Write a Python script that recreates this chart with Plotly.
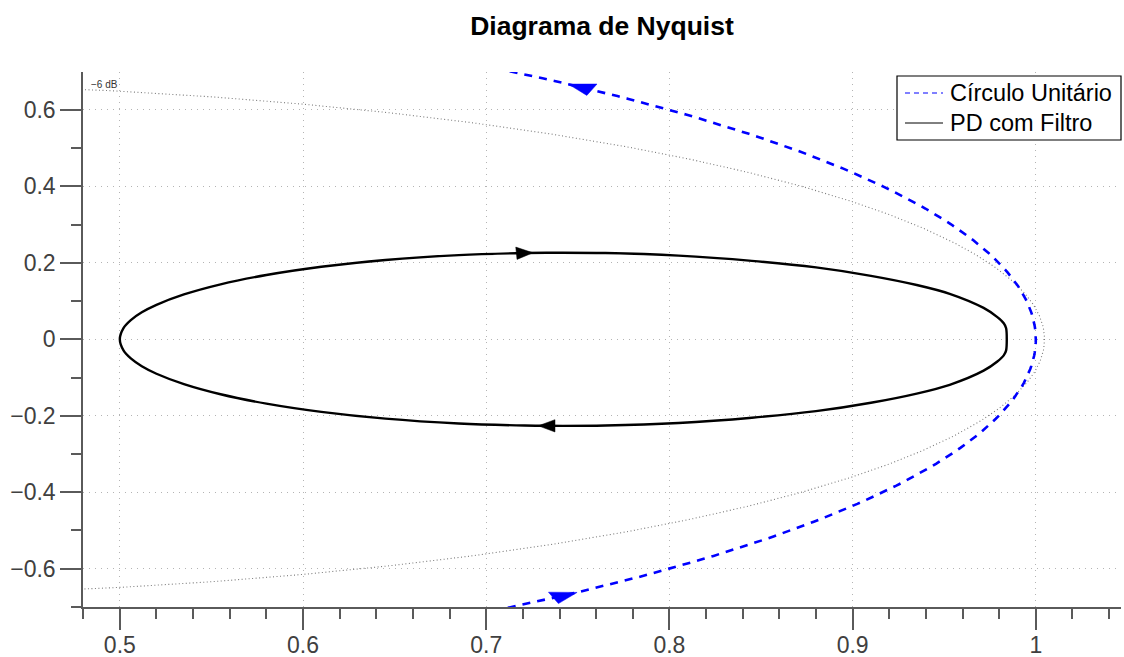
import numpy as np
import plotly.graph_objects as go

# Upper branch of the "PD com Filtro" Nyquist curve (lower branch is its mirror image)
PD_X = [0.5000, 0.5020, 0.5060, 0.5120, 0.5200, 0.5350, 0.5550, 0.5800, 0.6100,
        0.6450, 0.6850, 0.7210, 0.7330, 0.7650, 0.8050, 0.8450, 0.8800, 0.9100,
        0.9350, 0.9530, 0.9715, 0.9790, 0.9825, 0.9838]
PD_Y = [0.0000, 0.0291, 0.0501, 0.0705, 0.0901, 0.1173, 0.1438, 0.1682, 0.1898,
        0.2075, 0.2201, 0.2256, 0.2263, 0.2255, 0.2188, 0.2051, 0.1880, 0.1660,
        0.1420, 0.1190, 0.0820, 0.0580, 0.0420, 0.0290]

# Unit circle angles (degrees) and the M-circle level of the grid
CIRCLE_DEG = np.arange(-180.0, 180.5, 0.5)
M_CIRCLE_DB = -6

# Where the direction arrows sit
CIRCLE_ARROW_DEG = [41.3, -42.0]
PD_ARROW_X = (0.721, 0.733)

X_TICKS = [0.5, 0.6, 0.7, 0.8, 0.9, 1.0]
Y_TICKS = [-0.6, -0.4, -0.2, 0.0, 0.2, 0.4, 0.6]

LEGEND_NAMES = ["Círculo Unitário", "PD com Filtro"]

XR = [0.4799, 1.0465]
YR = [-0.7001, 0.699]
SX = XR[1] - XR[0]
SY = YR[1] - YR[0]

FONT = "Liberation Sans, Arial, Helvetica, sans-serif"
AXIS_COLOR = "#5a5a5a"
BLUE = "#0000ff"

W, H = 1124, 657
ML, MR, MT, MB = 83, 3, 72, 50
PW, PH = W - ML - MR, H - MT - MB


def px2paper(xp, yp):
    return (xp - ML) / PW, (H - MB - yp) / PH


def arrow_head(px, py, dx, dy, length, half_width):
    """Triangle built in normalized axes units, pointing along (dx, dy)."""
    ux, uy = dx / SX, dy / SY
    n = np.hypot(ux, uy)
    ux, uy = ux / n, uy / n
    nx, ny = -uy, ux
    cx, cy = px / SX, py / SY
    tip = (cx + length / 2 * ux, cy + length / 2 * uy)
    bx, by = cx - length / 2 * ux, cy - length / 2 * uy
    b1 = (bx + half_width * nx, by + half_width * ny)
    b2 = (bx - half_width * nx, by - half_width * ny)
    pts = [tip, b1, b2, tip]
    return [p[0] * SX for p in pts], [p[1] * SY for p in pts]


# closed PD path: upper branch left->right, lower branch right->left
px = list(PD_X) + list(PD_X[::-1])
py = list(PD_Y) + [-v for v in PD_Y[::-1]]

# unit circle
th = np.deg2rad(CIRCLE_DEG)
cx_u, cy_u = np.cos(th), np.sin(th)

# M-circle for the grid
M = 10 ** (M_CIRCLE_DB / 20)
mc = M ** 2 / (1 - M ** 2)
mr = M / (1 - M ** 2)
mx = mc + mr * np.cos(th)
my = mr * np.sin(th)

fig = go.Figure()

fig.add_trace(go.Scatter(x=mx, y=my, mode="lines", showlegend=False, hoverinfo="skip",
                         line=dict(color="#7a7a7a", width=1.1, dash="1px,2.5px")))

fig.add_trace(go.Scatter(x=cx_u, y=cy_u, mode="lines", showlegend=False,
                         name=LEGEND_NAMES[0],
                         line=dict(color=BLUE, width=2.6, dash="8px,7px")))

fig.add_trace(go.Scatter(x=px, y=py, mode="lines", showlegend=False,
                         name=LEGEND_NAMES[1],
                         line=dict(color="black", width=2.4, shape="spline", smoothing=0.8)))

# arrows on the unit circle (counter-clockwise)
for deg in CIRCLE_ARROW_DEG:
    t = np.deg2rad(deg)
    ax_, ay_ = arrow_head(np.cos(t), np.sin(t), -np.sin(t), np.cos(t), 0.025, 0.0117)
    fig.add_trace(go.Scatter(x=ax_, y=ay_, mode="lines", fill="toself", fillcolor=BLUE,
                             line=dict(color=BLUE, width=0.5), showlegend=False,
                             hoverinfo="skip"))

# arrows on the PD curve
n_half = len(PD_X)
i_up = int(np.argmin([abs(v - PD_ARROW_X[0]) for v in PD_X]))
i_lo = n_half + (n_half - 1 - int(np.argmin([abs(v - PD_ARROW_X[1]) for v in PD_X])))
for i in (i_up, i_lo):
    dx = px[i + 1] - px[i - 1]
    dy = py[i + 1] - py[i - 1]
    ax_, ay_ = arrow_head(px[i], py[i], dx, dy, 0.016, 0.0115)
    fig.add_trace(go.Scatter(x=ax_, y=ay_, mode="lines", fill="toself", fillcolor="black",
                             line=dict(color="black", width=0.5), showlegend=False,
                             hoverinfo="skip"))

axis_common = dict(
    showline=True, linecolor=AXIS_COLOR, linewidth=1.5, mirror=False,
    ticks="outside", ticklen=21, tickwidth=1.5, tickcolor=AXIS_COLOR,
    tickfont=dict(family=FONT, size=23, color="#404040"),
    showgrid=True, gridcolor="#b4b4b4", gridwidth=1, griddash="1px,5px",
    zeroline=False, automargin=False,
)

fig.update_xaxes(range=XR, tickvals=X_TICKS, ticktext=[f"{v:g}" for v in X_TICKS],
                 ticklabelstandoff=-4,
                 minor=dict(dtick=0.02, tick0=0, ticklen=10, tickwidth=1.5,
                            tickcolor=AXIS_COLOR, ticks="outside", showgrid=False),
                 **axis_common)
fig.update_yaxes(range=YR, tickvals=Y_TICKS,
                 ticktext=[("\u2212" if v < 0 else "") + f"{abs(v):g}" for v in Y_TICKS],
                 minor=dict(dtick=0.1, tick0=0, ticklen=10, tickwidth=1.5,
                            tickcolor=AXIS_COLOR, ticks="outside", showgrid=False),
                 **axis_common)

fig.add_annotation(x=0.4831, y=0.667, xref="x", yref="y", text="\u22126 dB",
                   showarrow=False, xanchor="left", yanchor="middle",
                   font=dict(family=FONT, size=10, color="#333333"))

# boxed legend in the upper-right corner
bx0, by0 = px2paper(897, 140)
bx1, by1 = px2paper(1121, 76)
fig.add_shape(type="rect", xref="paper", yref="paper", x0=bx0, y0=by0, x1=bx1, y1=by1,
              line=dict(color="black", width=1.2), fillcolor="white", layer="above")
legend_rows = [(LEGEND_NAMES[0], BLUE, "5px,4px", 93), (LEGEND_NAMES[1], "black", "solid", 123)]
for name, color, dash, yp in legend_rows:
    lx0, ly = px2paper(905, yp)
    lx1, _ = px2paper(943, yp)
    tx, _ = px2paper(948, yp)
    fig.add_shape(type="line", xref="paper", yref="paper", x0=lx0, y0=ly, x1=lx1, y1=ly,
                  line=dict(color=color, width=1, dash=dash), layer="above")
    fig.add_annotation(x=tx, y=ly, xref="paper", yref="paper", text=name, showarrow=False,
                       xanchor="left", yanchor="middle",
                       font=dict(family=FONT, size=23.5, color="black"))

fig.update_layout(
    width=W, height=H,
    margin=dict(l=ML, r=MR, t=MT, b=MB, autoexpand=False),
    plot_bgcolor="white", paper_bgcolor="white",
    showlegend=False,
    title=dict(text="<b>Diagrama de Nyquist</b>", x=0.5, xref="paper", xanchor="center",
               y=1 - 26 / H, yref="container", yanchor="middle",
               font=dict(family=FONT, size=26.5, color="black")),
    font=dict(family=FONT),
)

fig.write_html("out.html")
